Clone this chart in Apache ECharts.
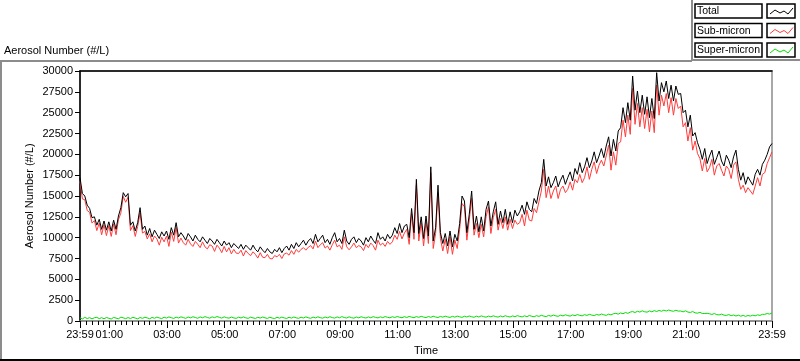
<!DOCTYPE html>
<html><head><meta charset="utf-8">
<script src="https://cdn.jsdelivr.net/npm/echarts@6/dist/echarts.min.js"></script>
<style>html,body{margin:0;padding:0;background:#fff}#c{width:800px;height:361px}</style>
</head><body><div id="c"></div>
<script>
// sampling: one value every 5 minutes, starting at 23:59 (minute 0) to 23:59 (minute 1440)
const stepMinutes = 5;
const seriesNames = ['Total', 'Sub-micron', 'Super-micron'];
const total = [
17200,15300,15000,13900,13500,12400,12500,11500,12200,11000,
12000,10900,11900,10800,12100,11000,12600,13600,15400,14900,
15300,11500,11900,10800,11800,13600,11000,11400,10300,11100,
10100,10900,10400,9900,10700,10200,10800,9800,11200,10300,
11800,10100,10600,10200,9700,10500,10100,9600,10300,9800,
9500,10100,9700,9300,9900,9600,9200,9800,9400,9000,
9600,9100,9400,8800,9300,9000,8700,9200,8600,9100,
8800,8500,9100,8600,8300,8900,8500,8200,8700,8300,
8100,8600,8300,8800,8200,8700,9000,8500,9200,8700,
9400,8900,9300,9700,9100,9600,9900,9300,10400,9500,
9900,10300,9400,9800,9200,10000,10600,9500,9900,9300,
10900,9600,9200,9800,10100,9400,9900,9600,9100,10000,
9500,10200,9700,9300,10600,9800,10100,9600,10400,9900,
10300,11200,10500,11700,10600,11400,11600,10000,13500,10600,
17000,10500,12500,9900,12600,10200,18500,9600,11200,16300,
10600,9300,10500,9000,10800,8900,10400,9600,11700,15000,
14400,10600,12800,15600,11000,12600,10700,12500,10800,13400,
14400,11400,13100,14300,11600,13200,11800,13400,11600,13100,
11800,13300,12600,13100,13900,12800,14300,13400,13100,14700,
14100,15600,16600,19400,16200,17300,16000,16600,17400,16100,
16900,17500,16400,17200,17900,16800,18300,17600,19000,17800,
18500,19600,18400,19200,20300,19000,19800,20700,19600,21000,
22100,19800,21800,20400,22800,23200,25600,23800,26200,24100,
29400,25300,27600,25000,27100,24800,26900,24400,26700,24300,
29800,26400,28600,27500,28800,26700,28300,26400,28200,27200,
27300,25000,25300,23300,24700,22200,22600,21400,20600,19400,
20700,18900,19800,20500,18800,19600,20400,19200,18600,19900,
19300,18400,19700,20500,18200,16900,17800,16400,17300,16800,
16300,17600,18200,17500,18800,19300,20000,20900,21300];
const subMicron = [
16750,14650,14550,13250,13050,11750,12050,10850,11750,10350,
11550,10250,11450,10150,11650,10350,12150,12950,14950,14250,
14850,10850,11450,10150,11350,12950,10550,10750,9850,10450,
9500,10200,9850,9100,10050,9500,10200,8950,10650,9550,
11200,9350,9950,9400,9100,9800,9250,8950,9550,9200,
8800,9500,8900,8650,9150,9000,8350,9100,8750,8200,
8950,8300,8800,8050,8600,8150,8100,8500,7800,8450,
8100,7850,8300,8000,7550,8200,7650,7600,8000,7500,
7450,7850,7700,8000,7500,8050,8150,7900,8450,8000,
8600,8250,8600,8800,8500,8850,9050,8650,9600,8800,
9150,9400,8750,9000,8500,9150,9700,8900,9100,8600,
10100,8900,8550,8900,9350,8800,9050,8900,8450,9200,
8800,9350,9050,8500,9700,9100,9350,8950,9550,9200,
9500,10300,9800,10750,9850,10550,11000,9200,12900,9800,
16300,9600,11800,9000,11900,9300,17800,8700,10500,15400,
9900,8400,9800,8100,10100,8000,9700,8700,11000,14100,
13700,9700,12100,14700,10300,11700,10000,11600,10100,12500,
13700,10500,12400,13400,10900,12300,11100,12500,10900,12200,
11100,12100,11600,11800,12800,11400,13300,12100,12000,13500,
13000,14300,15600,18200,14800,16200,14700,15600,16200,14700,
15800,16200,15400,15800,16700,15700,17000,16600,17600,16600,
17200,18500,17000,18200,19100,17700,18700,19300,18600,19800,
21100,18100,20300,18700,21300,21500,24100,22100,24700,22400,
27900,23600,26100,23300,25600,23100,25400,22700,25200,22600,
28300,24700,27100,25800,27300,25000,26800,24700,26700,25500,
25800,23300,23800,21600,23200,20500,21600,20100,19500,18000,
19500,17900,18400,19400,17500,18600,18900,18100,17400,18600,
18200,17100,18700,19100,17000,15800,16300,15400,16000,15600,
15200,16200,17200,16200,17600,17800,18900,19600,20300];
const superMicron = [
380,250,430,300,400,260,390,440,280,400,
270,420,330,240,430,350,270,460,380,280,
410,300,440,350,260,420,320,450,370,270,
430,330,470,370,290,450,350,490,400,310,
460,360,500,410,320,480,380,510,420,330,
490,390,520,430,340,500,400,530,440,350,
500,400,340,470,370,320,460,360,490,380,
320,460,370,310,450,350,480,380,310,450,
350,300,440,340,470,370,310,450,350,480,
380,320,460,360,490,390,330,470,370,500,
400,340,480,380,510,410,350,490,390,520,
420,360,500,400,340,480,380,510,420,360,
490,390,520,430,370,500,400,530,440,380,
510,420,540,450,390,520,420,550,460,400,
530,440,560,470,410,540,440,570,480,420,
550,460,580,490,430,560,460,590,500,440,
570,480,600,510,450,580,480,610,520,460,
590,500,620,530,470,600,500,630,540,480,
610,520,640,550,490,620,520,660,570,510,
640,550,680,590,530,670,580,710,620,560,
700,610,740,650,590,730,640,770,680,620,
760,670,800,710,650,790,700,840,740,680,
820,730,870,920,820,970,870,1020,920,1070,
1130,1020,1170,1070,1220,1110,1060,1210,1100,1250,
1140,1270,1170,1300,1200,1320,1220,1170,1290,1190,
1200,1100,1220,1070,1030,1130,980,940,1040,900,
900,920,870,790,890,760,730,830,700,670,
770,640,720,600,700,580,670,560,660,590,
700,620,740,670,800,800,900,830,960];
// x tick positions in minutes after 23:59, and their labels
const xTickValues = [0,61,181,301,421,541,661,781,901,1021,1141,1261,1440];
const xTickLabels = ['23:59','01:00','03:00','05:00','07:00','09:00','11:00','13:00','15:00','17:00','19:00','21:00','23:59'];
const yMin = 0, yMax = 30000, yStep = 2500;

const FONT = "'Liberation Sans', Arial, sans-serif";
const colors = ['#000000', '#ff3c3c', '#00e000'];
const minorTicks = [];
for (let m = 1; m < 1440; m += 12) minorTicks.push(m);
function pairs(arr) { return arr.map((v, i) => [i * stepMinutes, v]); }

const chart = echarts.init(document.getElementById('c'), null, { renderer: 'canvas' });

const graphics = [
  { type: 'line', shape: { x1: 0, y1: 61, x2: 692, y2: 61 }, style: { stroke: '#8c8c8c', lineWidth: 2 } },
  { type: 'line', shape: { x1: 692, y1: 0, x2: 692, y2: 61 }, style: { stroke: '#8c8c8c', lineWidth: 2 } },
  { type: 'line', shape: { x1: 692, y1: 60, x2: 800, y2: 60 }, style: { stroke: '#8c8c8c', lineWidth: 2 } },
  { type: 'line', shape: { x1: 1, y1: 61, x2: 1, y2: 360 }, style: { stroke: '#8c8c8c', lineWidth: 2 } },
  { type: 'line', shape: { x1: 0, y1: 360, x2: 800, y2: 360 }, style: { stroke: '#000', lineWidth: 2 } }
];
const rowTops = [4, 23.5, 43];
seriesNames.forEach((name, k) => {
  const y = rowTops[k];
  graphics.push({ type: 'rect', shape: { x: 695, y: y, width: 67, height: 14 }, style: { fill: '#fff', stroke: '#000', lineWidth: 1.5 } });
  graphics.push({ type: 'text', x: 697, y: y + 7.5, style: { text: name, font: '10.5px ' + FONT, fill: '#000', verticalAlign: 'middle', align: 'left' } });
  graphics.push({ type: 'rect', shape: { x: 767, y: y, width: 28, height: 14 }, style: { fill: '#fff', stroke: '#000', lineWidth: 1.5 } });
  graphics.push({ type: 'polyline', shape: { points: [[770, y + 10], [775, y + 6], [780, y + 9], [784, y + 7], [788, y + 10], [793, y + 4]] }, style: { stroke: colors[k], lineWidth: 1, fill: null } });
});

chart.setOption({
  animation: false,
  backgroundColor: '#fff',
  title: { text: 'Aerosol Number (#/L)', left: 4, top: 45, padding: 0, textStyle: { fontFamily: FONT, fontSize: 11, fontWeight: 'normal', color: '#000' } },
  grid: { left: 80, top: 71, width: 692, height: 250, show: true, borderColor: '#8c8c8c', borderWidth: 1.5, backgroundColor: '#fff', containLabel: false },
  xAxis: [
    { type: 'value', min: 0, max: 1440, position: 'bottom',
      axisLine: { show: true, lineStyle: { color: '#8c8c8c', width: 1.5 } },
      axisTick: { show: true, customValues: minorTicks, length: 4, lineStyle: { color: '#000' } },
      axisLabel: { show: false }, splitLine: { show: false } },
    { type: 'value', min: 0, max: 1440, position: 'bottom',
      axisLine: { show: false },
      axisTick: { show: true, customValues: xTickValues, length: 7, lineStyle: { color: '#000' } },
      axisLabel: { show: true, customValues: xTickValues, margin: 8, color: '#000', fontSize: 11, fontFamily: FONT,
        showMinLabel: true, showMaxLabel: true, hideOverlap: false,
        formatter: function (v) { const i = xTickValues.indexOf(v); return i >= 0 ? xTickLabels[i] : ''; } },
      splitLine: { show: false },
      name: 'Time', nameLocation: 'middle', nameGap: 24, nameMoveOverlap: false,
      nameTextStyle: { color: '#000', fontSize: 11, fontFamily: FONT } },
    { type: 'value', min: 0, max: 1440, position: 'top',
      axisLine: { show: true, lineStyle: { color: '#000', width: 1.5 } },
      axisTick: { show: false }, axisLabel: { show: false }, splitLine: { show: false } }
  ],
  yAxis: {
    type: 'value', min: yMin, max: yMax, interval: yStep, position: 'left',
    axisLine: { show: true, lineStyle: { color: '#000', width: 1.5 } },
    axisTick: { show: true, length: 5, lineStyle: { color: '#000' } },
    axisLabel: { color: '#000', fontSize: 11, fontFamily: FONT, margin: 7, showMinLabel: true, showMaxLabel: true,
      formatter: function (v) { return String(v); } },
    splitLine: { show: false },
    name: 'Aerosol Number (#/L)', nameLocation: 'middle', nameGap: 45, nameRotate: 90, nameMoveOverlap: false,
    nameTextStyle: { color: '#000', fontSize: 11, fontFamily: FONT }
  },
  graphic: graphics,
  series: [
    { name: seriesNames[2], type: 'line', xAxisIndex: 0, data: pairs(superMicron), showSymbol: false, z: 1,
      lineStyle: { color: colors[2], width: 1 }, itemStyle: { color: colors[2] } },
    { name: seriesNames[1], type: 'line', xAxisIndex: 0, data: pairs(subMicron), showSymbol: false, z: 2,
      lineStyle: { color: colors[1], width: 1 }, itemStyle: { color: colors[1] } },
    { name: seriesNames[0], type: 'line', xAxisIndex: 0, data: pairs(total), showSymbol: false, z: 3,
      lineStyle: { color: colors[0], width: 1 }, itemStyle: { color: colors[0] } }
  ]
});
</script></body></html>
